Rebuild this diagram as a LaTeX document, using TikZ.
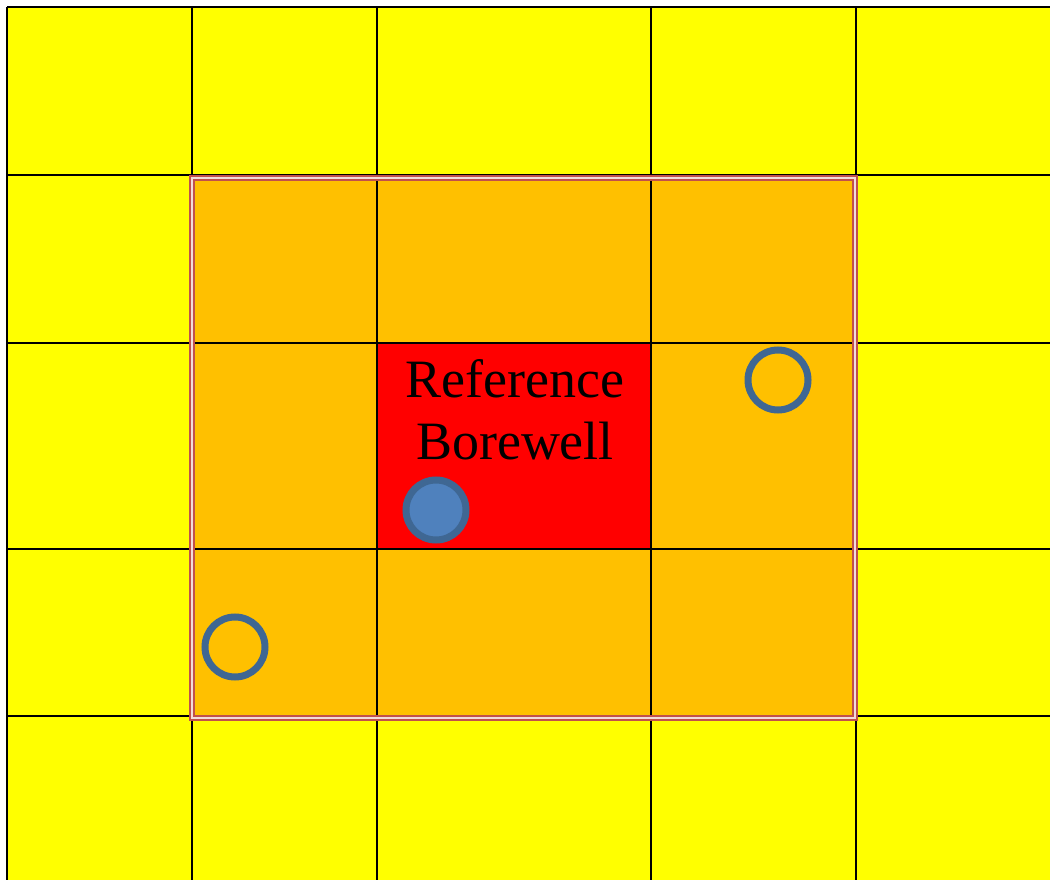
\documentclass[tikz,border=0pt]{standalone}
\usepackage{fontspec}
\setmainfont{Liberation Serif}
\usepackage{xcolor}
\usepackage{tikz}
\definecolor{fieldyellow}{HTML}{FFFF00}
\definecolor{zoneorange}{HTML}{FFC000}
\definecolor{refred}{HTML}{FF0000}
\definecolor{wellblue}{HTML}{4F81BD}
\definecolor{welledge}{HTML}{3F6793}
\definecolor{zonepink}{HTML}{C0504D}
\definecolor{zonepale}{HTML}{F2DCDB}
\tikzset{
  gridline/.style={draw=black, line width=1.8pt},
  zoneframe/.style={draw=zonepink, line width=2pt, double=zonepale, double distance=2.6pt},
  wellring/.style={circle, draw=welledge, line width=7pt, minimum size=60pt, inner sep=0pt},
  welldot/.style={wellring, fill=wellblue},
  reftext/.style={font=\fontsize{54}{62}\selectfont, align=center, inner sep=0pt},
}

\begin{document}
\begin{tikzpicture}[x=1pt, y=-1pt]
  \useasboundingbox (0,0) rectangle (1050,880);
  % field and zones
  \fill[fieldyellow] (7,7) rectangle (1050,880);
  \fill[zoneorange] (192,178) rectangle (855,718);
  \fill[refred] (377,343) rectangle (651,549);
  % grid
  \foreach \gx in {7,192,377,651,856}
    \draw[gridline] (\gx,7) -- (\gx,880);
  \foreach \gy in {7,175,343,549,716}
    \draw[gridline] (7,\gy) -- (1050,\gy);
  % zone of influence
  \draw[zoneframe] (192,178) rectangle (855,718);
  % borewells
  \node[reftext] (reflabel) at (515,410) {Reference\\Borewell};
  \node[welldot] (refwell) at (436,510) {};
  \node[wellring] (wellne) at (778,380) {};
  \node[wellring] (wellsw) at (235,647) {};
\end{tikzpicture}
\end{document}
